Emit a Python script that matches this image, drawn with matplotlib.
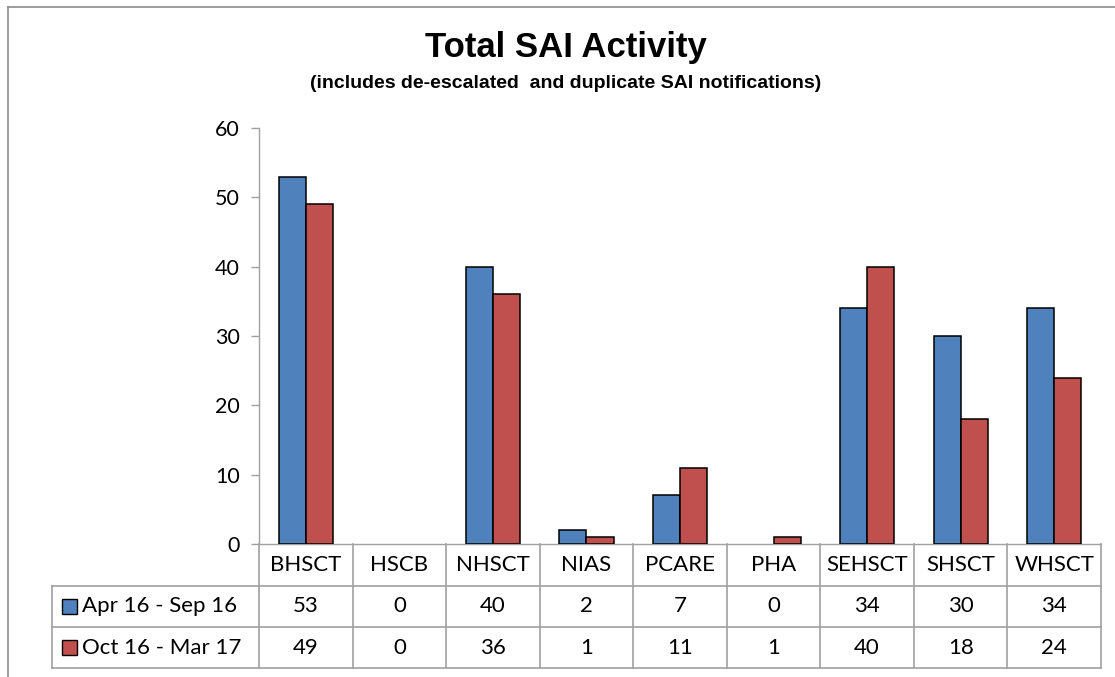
import matplotlib
matplotlib.use("Agg")
import matplotlib.pyplot as plt
import numpy as np
from matplotlib.lines import Line2D
from matplotlib.patches import Rectangle
import matplotlib.transforms as mtransforms

categories = ["BHSCT", "HSCB", "NHSCT", "NIAS", "PCARE", "PHA", "SEHSCT", "SHSCT", "WHSCT"]
series_names = ["Apr 16 - Sep 16", "Oct 16 - Mar 17"]
apr_sep = [53, 0, 40, 2, 7, 0, 34, 30, 34]
oct_mar = [49, 0, 36, 1, 11, 1, 40, 18, 24]
colors = ["#4F81BD", "#C0504D"]
yticks = [0, 10, 20, 30, 40, 50, 60]

W, H = 1115, 677
fig = plt.figure(figsize=(W / 100, H / 100), dpi=100)
fig.patch.set_facecolor("white")

# axes placement (pixels)
ax_l, ax_r, ax_t, ax_b = 259, 1101, 128, 544
ax = fig.add_axes([ax_l / W, 1 - ax_b / H, (ax_r - ax_l) / W, (ax_b - ax_t) / H])

tick_font = "Lato"
n = len(categories)
x = np.arange(n)
bw = 0.29
for k, vals in enumerate([apr_sep, oct_mar]):
    offs = (k - 0.5) * bw
    lws = [1.1 if v > 0 else 0 for v in vals]
    ax.bar(x + offs, vals, width=bw, color=colors[k], edgecolor="black",
           linewidth=lws, zorder=3)

ax.set_xlim(-0.5, n - 0.5)
ax.set_ylim(0, 60)
ax.set_yticks(yticks)
ax.set_yticklabels([str(t) for t in yticks], fontsize=15.5, family=tick_font)
ax.set_xticks([])
for s in ["top", "right"]:
    ax.spines[s].set_visible(False)
grey = "#A0A0A0"
ax.spines["left"].set_color(grey)
ax.spines["bottom"].set_color(grey)
ax.spines["left"].set_linewidth(1.0)
ax.spines["bottom"].set_linewidth(1.0)
ax.tick_params(axis="y", length=6, width=1.0, color=grey, pad=8)

# data table below the axes
ax_w = ax_r - ax_l
ax_h = ax_b - ax_t
def fy(py):
    return -(py - ax_b) / ax_h
row_lines = [586, 627, 668]
table_left_ax = (52 - ax_l) / ax_w
trans_x = mtransforms.blended_transform_factory(ax.transData, ax.transAxes)
lc = "#A0A0A0"
tfs = 16
for py in row_lines:
    ax.add_line(Line2D([table_left_ax, 1.0], [fy(py), fy(py)], transform=ax.transAxes,
                       color=lc, lw=1.2, clip_on=False))
for i in range(n + 1):
    ax.add_line(Line2D([i - 0.5, i - 0.5], [0, fy(668)], transform=trans_x,
                       color=lc, lw=1.2, clip_on=False))
ax.add_line(Line2D([table_left_ax, table_left_ax], [fy(586), fy(668)], transform=ax.transAxes,
                   color=lc, lw=1.2, clip_on=False))

for i, c in enumerate(categories):
    ax.text(i, fy(565), c, transform=trans_x, ha="center", va="center",
            fontsize=tfs, family=tick_font, clip_on=False)
for r, vals in enumerate([apr_sep, oct_mar]):
    yc = fy((row_lines[r] + row_lines[r + 1]) / 2)
    for i, v in enumerate(vals):
        ax.text(i, yc, str(v), transform=trans_x, ha="center", va="center",
                fontsize=tfs, family=tick_font, clip_on=False)
    key_x0 = (62 - ax_l) / ax_w
    key_w = 15 / ax_w
    key_h = 15 / ax_h
    ax.add_patch(Rectangle((key_x0, yc - key_h / 2), key_w, key_h, transform=ax.transAxes,
                           facecolor=colors[r], edgecolor="black", lw=1.0, clip_on=False))
    ax.text((82 - ax_l) / ax_w, yc, series_names[r], transform=ax.transAxes,
            ha="left", va="center", fontsize=tfs, family=tick_font, clip_on=False)

# titles
fig.text(566 / W, 1 - 47 / H, "Total SAI Activity", ha="center", va="center",
         fontsize=25, fontweight="bold", family="Liberation Sans")
fig.text(566 / W, 1 - 84 / H, "(includes de-escalated  and duplicate SAI notifications)",
         ha="center", va="center", fontsize=14, fontweight="bold", family="Liberation Sans")

# outer chart frame (top and left edges visible)
fig.add_artist(Line2D([8 / W, 1.0], [1 - 7 / H, 1 - 7 / H], transform=fig.transFigure,
                      color="#8C8C8C", lw=1.2))
fig.add_artist(Line2D([8 / W, 8 / W], [0, 1 - 7 / H], transform=fig.transFigure,
                      color="#8C8C8C", lw=1.2))

fig.savefig("out.png", dpi=100, facecolor="white")
